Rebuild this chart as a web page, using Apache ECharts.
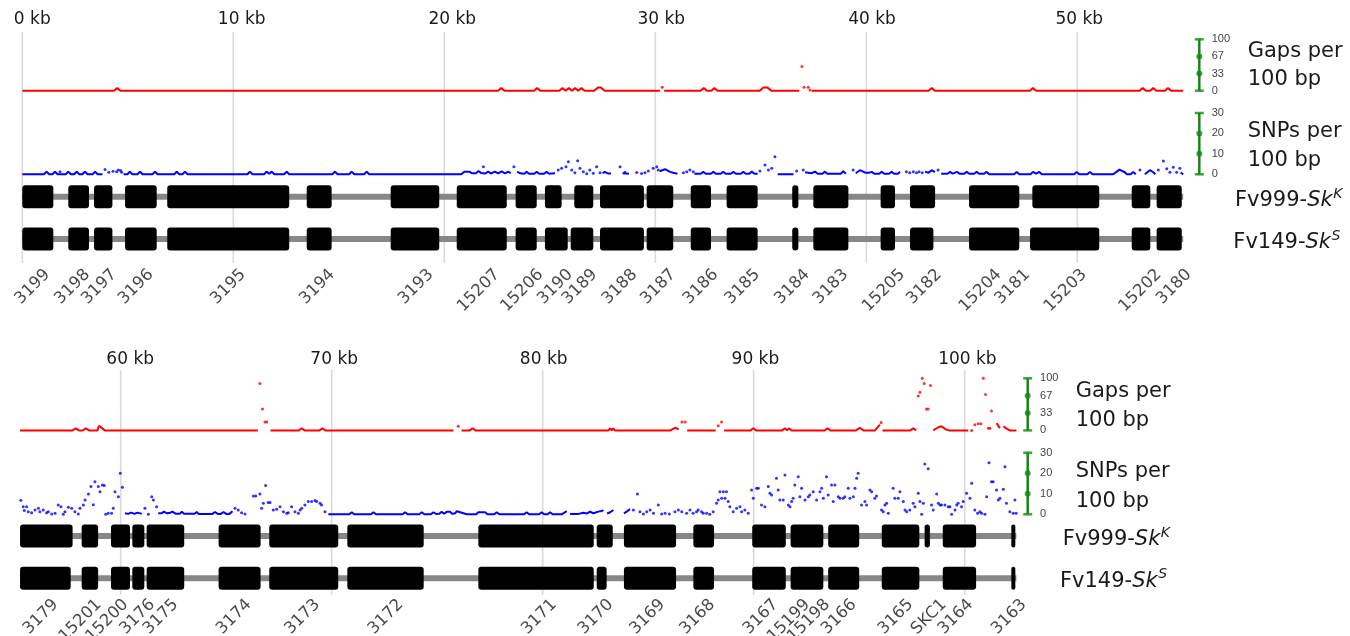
<!DOCTYPE html>
<html><head><meta charset="utf-8">
<script src="https://cdn.jsdelivr.net/npm/echarts@6/dist/echarts.min.js"></script>
<style>html,body{margin:0;padding:0;background:#fff}#c{width:1350px;height:636px}</style>
</head><body><div id="c"></div>
<script>
const BREAK = '-';

// ---------- tick labels ----------
const kbTicksTop = [0, 10, 20, 30, 40, 50];
const kbTicksBottom = [60, 70, 80, 90, 100];
const gapScaleLabels = ['0', '33', '67', '100'];
const snpScaleLabels = ['0', '10', '20', '30'];

// ---------- genes (kb) ----------
const geneNamesTop = ['3199','3198','3197','3196','3195','3194','3193','15207','15206','3190','3189','3188','3187','3186','3185','3184','3183','15205','3182','15204','3181','15203','15202','3180'];
const geneLabelKbTop = [1.19,3.08,4.35,6.09,10.47,14.69,19.36,22.51,24.57,25.96,27.13,29.02,30.85,32.86,34.84,37.2,39.02,41.71,43.45,46.29,47.63,50.32,53.87,55.29];
const geneNamesBottom = ['3179','15201','15200','3176','3175','3174','3173','3172','3171','3170','3169','3168','3167','15199','15198','3166','3165','SKC1','3164','3163'];
const geneLabelKbBottom = [56.92,58.97,60.24,61.5,62.61,66.08,69.32,73.27,80.54,83.22,85.67,88.04,91.04,92.54,93.49,94.75,97.44,99.02,100.28,102.81];

const exonsTopK = [[0,1.47],[2.18,3.16],[3.4,4.27],[4.87,6.37],[6.87,12.65],[13.48,14.66],[17.46,19.76],[20.59,22.96],[23.38,24.38],[24.77,25.56],[26.16,27.06],[27.38,29.46],[29.59,30.85],[31.68,32.64],[33.38,34.85],[36.49,36.78],[37.49,39.15],[40.68,41.36],[42.07,43.26],[44.87,47.25],[47.87,51.04],[52.58,53.46],[53.76,54.95]];
const exonsTopS = [[0,1.47],[2.18,3.16],[3.4,4.27],[4.87,6.37],[6.87,12.65],[13.48,14.66],[17.46,19.76],[20.59,22.96],[23.38,24.38],[24.77,25.85],[25.99,27.06],[27.38,29.46],[29.59,30.85],[31.68,32.64],[33.38,34.85],[36.49,36.78],[37.49,39.15],[40.68,41.36],[42.07,43.18],[44.87,47.25],[47.76,51.04],[52.58,53.46],[53.76,54.95]];
const exonsBottomK = [[55.23,57.72],[58.15,58.93],[59.54,60.44],[60.55,61.12],[61.23,63.01],[64.64,66.63],[67.04,70.31],[70.74,74.36],[76.95,82.42],[82.56,83.32],[83.85,86.32],[87.14,88.12],[89.93,91.52],[91.75,93.3],[93.53,95.0],[96.07,97.85],[98.1,98.35],[98.96,100.54],[102.21,102.4]];
const exonsBottomS = [[55.23,57.63],[58.15,58.93],[59.54,60.44],[60.55,61.12],[61.23,63.01],[64.64,66.63],[67.04,70.31],[70.74,74.36],[76.95,82.42],[82.56,83.03],[83.85,86.32],[87.14,88.12],[89.93,91.52],[91.75,93.3],[93.53,95.0],[96.07,97.85],[98.96,100.54],[102.21,102.4]];

// ---------- gaps per 100 bp ----------
const gapsTopLine = [[0,0],[4.35,0],[4.5,5],[4.65,0],[22.55,0],[22.7,5],[22.85,0],[24.25,0],[24.4,5],[24.55,0],
[25.45,0],[25.6,5],[25.75,0],[25.9,5],[26.05,0],[26.2,5],[26.35,0],[26.5,5],[26.65,0],[27.1,0],[27.28,6],[27.42,6],[27.6,0],
[30.22,0],[30.3,BREAK],[30.42,0],[32.15,0],[32.3,5],[32.45,0],[32.65,0],[32.8,5],[32.95,0],[34.95,0],[35.12,6],[35.32,6],[35.5,0],
[36.82,0],[37.0,BREAK],[37.41,0],[42.95,0],[43.1,5],[43.25,0],[47.75,0],[47.9,5],[48.05,0],
[52.95,0],[53.1,5],[53.25,0],[53.45,0],[53.6,5],[53.75,0],[54.15,0],[54.3,5],[54.45,0],[55.02,0]];
const gapsTopDots = [[30.33,6.6],[36.95,47],[37.05,6.6],[37.25,6.6],[37.33,1.5]];

const gapsBottomLine = [[55.23,0],[57.72,0],[57.87,4],[58.02,0],[58.2,0],[58.35,4],[58.5,0],[58.9,0],[58.97,9],[59.25,0],[66.5,0],
[66.6,BREAK],[67.1,0],[68.45,0],[68.58,4],[68.71,0],[69.43,0],[69.56,4],[69.69,0],[75.77,0],
[75.85,BREAK],[76.16,0],[76.55,0],[76.68,4],[76.81,0],[83.12,0],[83.2,4],[83.27,0],[83.34,4],[83.42,0],[86.05,0],[86.27,5],[86.45,2],
[86.55,BREAK],[86.85,0],[88.2,0],[88.3,BREAK],[88.6,0],[89.85,0],[89.98,4],[90.11,0],[91.35,0],[91.48,4],[91.58,0],[91.67,4],[91.8,0],
[93.37,0],[93.5,4],[93.63,0],[94.85,0],[95.03,5],[95.2,0],[95.75,0],[95.98,11],[96.02,BREAK],[96.1,0],[97.42,0],[97.56,4],[97.7,0],
[97.75,BREAK],[98.51,0],[98.75,6],[98.9,8],[99.1,2],[99.25,0],[100.17,0],[100.25,BREAK],[101.51,14],[101.67,4],[101.75,BREAK],
[101.83,8],[102.0,3],[102.14,0],[102.45,0]];
const gapsBottomDots = [[66.6,90],[66.72,41],[66.84,16],[66.92,16],[76.0,8],[86.6,16],[86.75,16],[88.32,9],[88.48,16],[96.04,15],
[97.8,66],[97.88,73],[97.99,100],[98.08,90],[98.19,41],[98.27,41],[98.38,86],
[100.33,0],[100.48,11],[100.64,13],[100.77,13],[100.88,100],[100.99,69],[101.12,4],[101.2,4],[101.27,37]];

// ---------- SNPs per 100 bp ----------
const snpTopLine = [[0,0],[1.03,0],[1.15,1.3],[1.27,0],[1.43,0],[1.55,1.3],[1.67,0],
[2.06,0],[2.18,1.3],[2.3,0],[2.46,0],[2.58,1.3],[2.7,0],[2.85,0],[2.97,1.3],[3.09,0],[3.33,0],[3.45,1.3],[3.57,0],[3.8,0],
[3.85,BREAK],[4.8,0],[4.98,0],[5.1,1.3],[5.22,0],[5.46,0],[5.58,1.3],[5.7,0],[6.17,0],[6.29,1.3],[6.41,0],
[7.2,0],[7.32,1.3],[7.44,0],[7.59,0],[7.71,1.3],[7.83,0],
[10.67,0],[10.79,1.3],[10.91,0],[11.46,0],[11.58,1.3],[11.7,0.3],[11.82,1.3],[11.94,0],[12.41,0],[12.53,1.3],[12.65,0],
[14.7,0],[14.82,1.3],[14.94,0],[15.49,0],[15.61,1.3],[15.73,0],[16.2,0],[16.32,1.3],[16.44,0],
[20.8,0],[20.95,1.3],[21.2,1.3],[21.3,0.5],[21.5,0.5],[21.62,1.6],[21.75,0.6],[21.95,0.4],[22.08,1.4],[22.2,0.4],[22.4,1.3],[22.55,0.4],[22.72,1.4],[22.88,0.4],[23.03,1.3],[23.15,0.5],
[23.25,BREAK],[23.45,1.3],[23.6,0.5],[23.8,0.3],[23.9,1.2],[24.02,0.3],[24.26,0.3],[24.38,1.2],[24.5,0.3],[24.73,0.3],[24.85,1.2],[24.97,0.3],[25.25,0.5],
[25.33,BREAK],[27.5,0.5],[27.6,1.2],[27.75,0.4],[27.9,0.4],[28.1,BREAK],[28.45,0.5],[28.75,0.3],[28.9,BREAK],
[30.2,1.5],[30.46,2.5],[30.7,1.2],[30.85,0.8],[31.05,0.3],[31.2,BREAK],
[31.85,0.3],[32.15,0.3],[32.27,1.2],[32.39,0.3],[32.63,0.3],[32.75,1.2],[32.87,0.3],[33.1,0.3],[33.22,1.2],[33.34,0.3],[33.58,0.3],[33.7,1.2],[33.82,0.3],[34.05,0.3],[34.17,1.2],[34.29,0.3],[34.45,0.3],[34.57,1.3],[34.7,0.3],[34.85,0.3],
[34.9,BREAK],[35.8,0],[36.55,0],[36.6,BREAK],
[37.1,1.0],[37.4,0.5],[37.57,1.3],[37.7,0.3],[37.92,0.3],[38.04,1.3],[38.15,0.3],[38.79,0.3],[38.91,1.5],[39.03,0.3],[39.2,BREAK],
[39.5,0.5],[39.7,2.0],[39.95,0.8],[40.14,0.8],[40.26,1.2],[40.38,0.3],[40.61,0.3],[40.73,1.2],[40.85,0.3],[41.08,0.3],[41.2,1.2],[41.32,0.3],[41.5,0.3],[41.6,1.2],
[41.75,BREAK],[42.78,1.3],[42.95,0.8],[43.1,2.0],[43.25,1.0],[43.32,BREAK],
[43.55,0.3],[43.85,0.3],[43.97,1.2],[44.09,0.3],[44.18,0.3],[44.3,1.2],[44.42,0.3],[44.64,0.3],[44.76,1.2],[44.88,0.3],[45.11,0.3],[45.23,1.2],[45.35,0.3],[45.58,0.3],[45.7,1.2],[45.82,0],
[47.01,0],[47.13,1.2],[47.25,0],[47.78,0],[47.9,1.2],[48.05,0.3],[48.2,1.2],[48.32,0],[49.85,0],[49.97,1.2],[50.09,0],[50.48,0],[50.6,1.2],[50.72,0],
[51.7,0],[52.0,2.3],[52.25,1.0],[52.35,0],[52.53,0],[52.65,1.2],[52.77,0],[52.85,BREAK],[53.2,0],[53.44,2.0],[53.6,1.0],[53.7,0],[53.78,BREAK],[54.9,0.8],[55.02,0]];
const snpTopDots = [[1.79,1.3],[3.92,2.4],[4.1,1.0],[4.3,1.5],[4.47,1.3],[4.55,2.1],[4.66,1.8],[4.71,1.0],
[21.85,3.7],[23.3,3.7],
[25.4,2.1],[25.56,2.9],[25.77,3.7],[25.88,6.2],[26.04,2.1],[26.19,0.8],[26.32,6.6],[26.43,2.9],[26.59,1.3],[26.75,0.3],[26.9,2.1],[27.06,0.5],[27.22,3.7],[27.38,0.8],
[28.33,3.7],[28.56,1.0],[29.12,0.9],[29.35,0.4],[29.51,0.8],[29.67,1.6],[29.9,2.9],[30.07,3.7],[30.14,2.1],
[31.33,0.8],[31.49,1.3],[31.64,2.1],[31.8,1.2],
[34.96,1.6],[35.2,4.6],[35.36,2.1],[35.52,2.9],[35.67,8.6],[36.7,1.6],[37.01,2.1],[39.38,2.1],
[41.9,1.2],[42.06,0.8],[42.23,1.3],[42.38,0.8],[42.5,1.3],[42.65,0.8],[43.4,2.1],[52.97,2.1],
[53.84,2.1],[54.08,6.5],[54.24,2.7],[54.39,1.0],[54.55,3.4],[54.71,1.0],[54.86,2.9]];

const snpBottomLine = [[60.2,0.5],[60.35,0.2],[60.5,0.8],[60.65,0.2],[60.8,0.8],[61.0,0.2],[61.05,BREAK],
[61.78,0.5],[61.95,0.5],[62.05,1.3],[62.2,0.5],[62.35,0.8],[62.45,1.3],[62.6,0.3],[62.8,0.3],[62.9,1.2],[63.0,0.3],[63.5,0.3],[63.6,1.1],[63.7,0.2],[64.35,0.2],[64.47,1.1],[64.6,0.2],[64.75,0.2],[64.87,1.1],[65.0,0.2],[65.15,0.2],[65.3,1.5],[65.35,BREAK],
[69.84,0],[70.83,0],[70.95,1.0],[71.07,0],[71.86,0],[71.98,1.0],[72.1,0],[73.36,0],[73.48,1.0],[73.6,0],[74.15,0],[74.27,1.0],[74.39,0],[74.7,0],[74.82,1.0],[74.95,0.2],
[75.1,0.3],[75.21,1.2],[75.33,0.3],[75.45,1.2],[75.53,0.4],[75.61,1.2],[75.72,0.2],[75.85,0.5],[75.93,1.5],[76.4,0],[76.85,0],[76.95,1.0],[77.03,0.2],[77.11,1.0],[77.19,0.2],[77.27,1.0],[77.38,0],
[77.7,0],[77.82,1.0],[77.94,0],[79.12,0],[79.24,1.0],[79.36,0],[79.83,0],[79.95,1.0],[80.07,0],[80.23,0],[80.35,1.0],[80.47,0],[80.9,0],[81.14,1.5],[81.2,BREAK],
[81.3,0.2],[81.7,0.2],[81.93,0.8],[82.1,0.4],[82.24,1.3],[82.4,0.5],[82.48,0.8],[82.64,1.3],[82.8,1.6],[82.88,2.1],[82.95,BREAK],
[83.05,0.4],[83.2,1.0],[83.35,2.1],[83.42,BREAK],[83.85,0.5],[83.98,1.3],[84.14,2.5]];
const snpBottomDots = [[55.27,6.8],[55.38,3.7],[55.43,1.8],[55.54,3.7],[55.62,1.3],[55.78,0.8],[55.94,2.1],[56.1,2.9],[56.17,1.3],[56.33,2.1],[56.49,0.8],[56.57,1.3],[56.73,0.2],[56.89,0.5],
[57.04,4.5],[57.17,3.7],[57.28,0],[57.36,1.3],[57.52,3.4],[57.68,2.9],[57.83,1.3],[57.99,0.2],[58.07,2.9],[58.23,4.5],[58.31,7.0],[58.47,9.9],[58.59,13.5],[58.7,4.7],[58.78,15.9],[58.94,13.5],
[59.02,11.0],[59.13,14.3],[59.22,14.0],[59.29,0],[59.41,0.5],[59.57,0.5],[59.65,2.9],[59.73,11.0],[59.89,8.6],[59.98,20.0],[60.08,13.2],
[61.15,2.9],[61.31,0],[61.47,8.6],[61.55,7.0],[61.7,3.7],
[65.42,2.9],[65.57,2.1],[65.73,0.8],[65.89,0.2],[66.29,8.9],[66.4,8.9],[66.6,9.9],[66.68,2.9],[66.76,5.4],[66.87,14.0],[66.99,5.7],[67.08,5.7],[67.23,2.1],[67.39,2.4],[67.55,3.7],[67.71,1.3],[67.87,0.5],[67.94,0.8],
[68.1,3.7],[68.26,1.3],[68.42,0.5],[68.5,2.1],[68.58,2.9],[68.73,4.5],[68.89,6.2],[69.05,6.2],[69.21,6.7],[69.29,6.2],[69.45,5.4],[69.52,4.5],[69.68,1.3],
[84.3,2.1],[84.49,9.9],[84.61,1.3],[84.77,0.2],[84.93,1.3],[85.09,2.1],[85.25,0.5],[85.48,4.5],[85.64,0.2],[85.8,0.5],[86.0,0.2],[86.27,1.3],[86.43,2.1],[86.59,1.3],
[86.82,0.5],[86.98,2.1],[87.13,0.5],[87.29,1.3],[87.37,2.1],[87.53,1.3],[87.61,0.5],[87.77,0.5],[87.92,0],[88.08,1.3],[88.24,5.4],[88.32,7.0],[88.4,11.0],[88.48,7.8],[88.56,11.0],[88.64,7.8],[88.71,11.0],[88.79,6.2],[88.87,3.7],
[89.03,1.3],[89.19,2.9],[89.35,3.7],[89.43,1.3],[89.58,2.1],[89.74,0.5],[89.9,11.8],[89.98,7.8],[90.14,12.7],[90.22,12.7],[90.37,4.5],[90.53,3.7],[90.69,13.5],[90.77,10.2],[90.85,9.4],
[91.08,17.5],[91.16,11.8],[91.24,7.0],[91.4,7.0],[91.48,19.1],[91.64,4.5],[91.72,3.7],[91.8,6.2],[91.87,7.8],[91.95,14.3],[92.11,18.3],[92.19,8.6],[92.27,12.7],[92.43,7.0],[92.59,8.6],[92.66,9.4],[92.82,11.0],[92.98,7.0],
[93.14,11.0],[93.22,12.7],[93.3,7.8],[93.45,18.3],[93.53,9.4],[93.69,14.3],[93.77,6.2],[93.85,14.3],[94.01,8.6],[94.09,7.8],[94.24,7.8],[94.32,8.6],[94.48,12.7],[94.56,7.8],[94.72,8.6],[94.8,12.7],[94.88,17.5],[94.95,20.0],
[95.11,4.5],[95.27,6.2],[95.35,4.5],[95.51,11.8],[95.59,11.0],[95.74,7.8],[95.82,8.9],[96.06,2.1],[96.14,1.3],[96.22,4.5],[96.3,5.4],[96.38,0.5],[96.61,12.7],[96.69,7.8],[96.85,7.8],[96.93,11.0],
[97.09,6.2],[97.17,2.1],[97.25,1.3],[97.4,2.1],[97.56,5.4],[97.64,3.7],[97.8,10.2],[97.88,6.2],[97.96,0],[98.04,5.4],[98.11,24.5],[98.27,22.2],[98.43,4.5],[98.51,2.1],[98.67,9.9],[98.75,5.4],[98.83,4.5],[98.9,4.5],
[99.06,4.5],[99.22,3.7],[99.3,3.7],[99.38,0],[99.54,2.1],[99.62,4.5],[99.69,5.4],[99.85,3.7],[99.93,6.2],[100.09,10.2],[100.25,7.8],[100.33,15.1],[100.48,2.1],[100.61,0.5],[100.72,1.3],[100.8,0.5],[100.96,0],
[101.04,8.6],[101.15,25.1],[101.27,15.9],[101.35,15.9],[101.51,11.8],[101.59,7.0],[101.67,7.8],[101.83,12.2],[101.91,23.2],[101.98,5.4],[102.14,1.3],[102.3,0.5],[102.38,7.0],[102.44,0.5]];

// ---------- layout ----------
const PX_PER_KB = 21.1;
const TRACK_GAP = 42.3;
const FONT = '"DejaVu Sans", sans-serif';
const panels = [
  {xMin:0, xMax:55.02, x0:22.3, frameTop:32, frameBottom:263, tickLabelY:20, tickDx:[10,8.4,8,6,5.7,2],
   gapsTop:39.3, gapsZero:90.7, snpTop:113, snpZero:174.3, trackK:196.7, labelY:272,
   legendX:1199.3, textX:1247.7, gapsText:[51.7,80], snpText:[131.7,160.7], fvX:[1235,1233.3], fvY:[201,243],
   ticks:kbTicksTop, gapsLine:gapsTopLine, gapsDots:gapsTopDots, snpLine:snpTopLine, snpDots:snpTopDots,
   exK:exonsTopK, exS:exonsTopS, names:geneNamesTop, labelKb:geneLabelKbTop},
  {xMin:55.23, xMax:102.45, x0:20.05, frameTop:370, frameBottom:595, tickLabelY:360, tickDx:[9.5,2.5,1,1.7,2.7],
   gapsTop:378.3, gapsZero:430.4, snpTop:452.7, snpZero:514.3, trackK:536, labelY:602,
   legendX:1027.7, textX:1075.7, gapsText:[391.7,420.5], snpText:[471.7,501.2], fvX:[1062.7,1060], fvY:[540,581.5],
   ticks:kbTicksBottom, gapsLine:gapsBottomLine, gapsDots:gapsBottomDots, snpLine:snpBottomLine, snpDots:snpBottomDots,
   exK:exonsBottomK, exS:exonsBottomS, names:geneNamesBottom, labelKb:geneLabelKbBottom}
];

const option = {animation:false, backgroundColor:'#fff', grid:[], xAxis:[], yAxis:[], series:[], graphic:[]};
const measureCtx = document.createElement('canvas').getContext('2d');
function textW(str, font){ measureCtx.font = font; return measureCtx.measureText(str).width; }

panels.forEach(p => {
  const W = (p.xMax - p.xMin) * PX_PER_KB;
  const b = option.grid.length;
  const trackS = p.trackK + TRACK_GAP;
  const grids = [
    {left:p.x0, top:p.frameTop, width:W, height:p.frameBottom - p.frameTop},
    {left:p.x0, top:p.gapsTop, width:W, height:p.gapsZero - p.gapsTop},
    {left:p.x0, top:p.snpTop, width:W, height:p.snpZero - p.snpTop},
    {left:p.x0, top:p.trackK - TRACK_GAP/2, width:W, height:TRACK_GAP*3},
    {left:p.legendX - 4, top:p.gapsTop, width:8, height:p.gapsZero - p.gapsTop},
    {left:p.legendX - 4, top:p.snpTop, width:8, height:p.snpZero - p.snpTop}
  ];
  grids.forEach(g => { g.containLabel = false; g.outerBoundsMode = 'none'; option.grid.push(g); });
  const yR = [[0,1],[0,100],[0,30],[-1,2],[0,3],[0,3]];
  for (let i = 0; i < 6; i++) {
    const leg = i >= 4;
    option.xAxis.push({type:'value', gridIndex:b+i, min:leg?0:p.xMin, max:leg?1:p.xMax, show:false});
    const ya = {type:'value', gridIndex:b+i, min:yR[i][0], max:yR[i][1], show:false};
    if (leg) {
      const labs = i === 4 ? gapScaleLabels : snpScaleLabels;
      Object.assign(ya, {show:true, position:'right', interval:1,
        axisLine:{show:false}, axisTick:{show:false}, splitLine:{show:false},
        axisLabel:{margin:8.4, fontSize:11, color:'#444', fontFamily:'"Liberation Sans", Arial, sans-serif', formatter:v => labs[Math.round(v)]}});
    }
    option.yAxis.push(ya);
  }
  // gridlines + kb labels
  option.series.push({type:'custom', xAxisIndex:b, yAxisIndex:b, clip:false, silent:true, z:1,
    data:p.ticks.map(v => [v, 0]),
    renderItem:(params, api) => {
      const v = api.value(0);
      const a = api.coord([v, 0]), c = api.coord([v, 1]);
      return {type:'group', children:[
        {type:'line', shape:{x1:a[0], y1:a[1], x2:c[0], y2:c[1]}, style:{stroke:'#dadada', lineWidth:1.6}},
        {type:'text', x:c[0] + p.tickDx[params.dataIndex], y:p.tickLabelY,
         style:{text:v + ' kb', font:'17px ' + FONT, fill:'#1a1a1a', align:'center', verticalAlign:'middle'}}
      ]};
    }});
  // gaps
  option.series.push({type:'line', xAxisIndex:b+1, yAxisIndex:b+1, data:p.gapsLine, symbol:'none', clip:false, connectNulls:false, z:3,
    lineStyle:{color:'#ff0000', width:2}});
  option.series.push({type:'scatter', xAxisIndex:b+1, yAxisIndex:b+1, data:p.gapsDots, symbolSize:3, clip:false, z:3,
    itemStyle:{color:'#ff0000'}});
  // SNPs
  option.series.push({type:'line', xAxisIndex:b+2, yAxisIndex:b+2, data:p.snpLine, symbol:'none', clip:false, connectNulls:false, z:3,
    lineStyle:{color:'#0000ff', width:2}});
  option.series.push({type:'scatter', xAxisIndex:b+2, yAxisIndex:b+2, data:p.snpDots, symbolSize:3, clip:false, z:3,
    itemStyle:{color:'#0000ff'}});
  // backbones
  [1.5, 0.5].forEach(t => {
    option.series.push({type:'line', xAxisIndex:b+3, yAxisIndex:b+3, data:[[p.xMin, t],[p.xMax, t]], symbol:'none', clip:false, z:2,
      lineStyle:{color:'#878787', width:6, cap:'butt'}});
  });
  // exons
  const exData = p.exK.map(e => [e[0], e[1], 1.5]).concat(p.exS.map(e => [e[0], e[1], 0.5]));
  option.series.push({type:'custom', xAxisIndex:b+3, yAxisIndex:b+3, clip:false, z:4, data:exData,
    encode:{x:[0,1], y:2},
    renderItem:(params, api) => {
      const s = api.coord([api.value(0), api.value(2)]);
      const e = api.coord([api.value(1), api.value(2)]);
      return {type:'rect', shape:{x:s[0], y:s[1]-11.5, width:Math.max(e[0]-s[0], 3), height:23, r:3}, style:{fill:'#000'}};
    }});
  // gene labels
  const labelRow = 0.5 - (p.labelY - trackS) / TRACK_GAP;
  option.series.push({type:'scatter', xAxisIndex:b+3, yAxisIndex:b+3, clip:false, z:5, symbolSize:1,
    itemStyle:{color:'rgba(0,0,0,0)'},
    data:p.names.map((n, i) => ({name:n, value:[p.labelKb[i], labelRow]})),
    label:{show:true, formatter:'{b}', position:'inside', rotate:45, align:'right', verticalAlign:'middle',
      fontSize:16.5, fontFamily:FONT, color:'#1a1a1a'}});
  // scale bars
  [b+4, b+5].forEach(gi => {
    option.series.push({type:'line', xAxisIndex:gi, yAxisIndex:gi, data:[[0.5,0],[0.5,3]], symbol:'none', clip:false,
      lineStyle:{color:'#118a11', width:2.5}});
    option.series.push({type:'scatter', xAxisIndex:gi, yAxisIndex:gi, data:[[0.5,0],[0.5,3]], symbol:'rect', symbolSize:[9,2.5], clip:false,
      itemStyle:{color:'#118a11'}});
    option.series.push({type:'scatter', xAxisIndex:gi, yAxisIndex:gi, data:[[0.5,1],[0.5,2]], symbolSize:6, clip:false,
      itemStyle:{color:'#118a11'}});
  });
  // right-hand texts
  const bigFont = '21px ' + FONT;
  const addText = (t, x, y, font) => option.graphic.push({type:'text', x:x, y:y, silent:true,
    style:{text:t, font:font, fill:'#1a1a1a', align:'left', verticalAlign:'middle'}});
  addText('Gaps per', p.textX, p.gapsText[0], bigFont);
  addText('100 bp', p.textX, p.gapsText[1], bigFont);
  addText('SNPs per', p.textX, p.snpText[0], bigFont);
  addText('100 bp', p.textX, p.snpText[1], bigFont);
  [['Fv999-', 'K'], ['Fv149-', 'S']].forEach((pair, k) => {
    const x = p.fvX[k], y = p.fvY[k];
    const itFont = 'italic 21px ' + FONT;
    const w1 = textW(pair[0], bigFont), w2 = textW('Sk', itFont);
    addText(pair[0], x, y, bigFont);
    addText('Sk', x + w1, y, itFont);
    addText(pair[1], x + w1 + w2 + 0.5, y - 7, 'italic 14px ' + FONT);
  });
});

const chart = echarts.init(document.getElementById('c'), null, {renderer:'canvas'});
chart.setOption(option);
</script></body></html>
